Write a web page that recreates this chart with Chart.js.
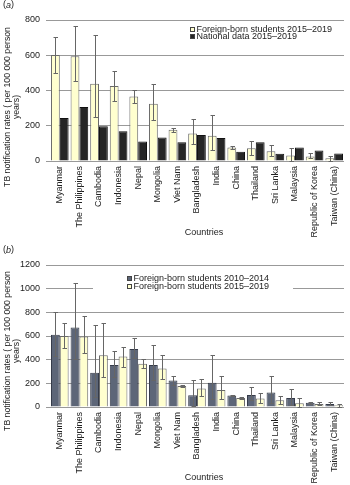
<!DOCTYPE html>
<html><head><meta charset="utf-8">
<script src="https://cdn.jsdelivr.net/npm/chart.js@4.4.1/dist/chart.umd.min.js"></script>
<style>html,body{margin:0;padding:0;background:#fff;}canvas{display:block;}</style>
</head><body>
<canvas id="ca" width="350" height="240"></canvas>
<canvas id="cb" width="350" height="245"></canvas>
<script>
// ---------- DATA ----------
const countries = ['Myanmar','The Philippines','Cambodia','Indonesia','Nepal','Mongolia','Viet Nam','Bangladesh','India','China','Thailand','Sri Lanka','Malaysia','Republic of Korea','Taiwan (China)'];

// Foreign-born students 2015–2019 (panels a and b)
const fb1519     = [601, 595, 438, 426, 366, 325, 178, 156, 143, 76, 72, 56, 31, 26, 15];
const fb1519Low  = [500, 455, 252, 340, 327, 235, 165,  95,  65, 67, 33, 28,  2, 18,  2];
const fb1519High = [706, 766, 714, 511, 402, 436, 190, 240, 259, 85,115, 89, 76, 43, 26];

// National data 2015–2019 (panel a)
const national   = [244, 306, 197, 169, 111, 134, 107, 148, 130, 52, 107, 41, 76, 59, 43];

// Foreign-born students 2010–2014 (panel b)
const fb1014     = [611, 671, 289, 354, 490, 354, 223,  99, 204, 98, 102, 123, 77, 35, 26];
const fb1014Low  = [430, 402,  88, 257, 410, 229, 184,  10,  68, 93,  56,  30, 15, 28, 13];
const fb1014High = [801,1047, 694, 470, 583, 527, 266, 229, 443,103, 165, 266,148, 43, 45];

const ticksA = {min:0, max:800, step:200};
const ticksB = {min:0, max:1200, step:200};

const legendA = ['Foreign-born students 2015\u20132019','National data 2015\u20132019'];
const legendB = ['Foreign-born students 2010\u20132014','Foreign-born students 2015\u20132019'];
const yTitle = ['TB notification rates ( per 100 000 person','years)'];
const xTitle = 'Countries';

// ---------- STYLE ----------
const FONT = '"Liberation Sans", Arial, Helvetica, sans-serif';
const TEXT = '#222';
const CREAM = '#ffffcf', CREAM_B = '#6a6a6a';
const BLACK = '#262626', BLACK_B = '#111';
const SLATE = '#5d6678', SLATE_B = '#363c4a';

const errorBars = {
  id:'errorBars',
  afterDatasetsDraw(chart){
    const ctx = chart.ctx, ys = chart.scales.y;
    chart.data.datasets.forEach((ds,i)=>{
      if(!ds.errLow) return;
      const meta = chart.getDatasetMeta(i);
      ctx.save();
      ctx.strokeStyle = '#666'; ctx.lineWidth = 1;
      meta.data.forEach((bar,j)=>{
        const x = Math.round(bar.x) + 0.5;
        const yl = Math.round(ys.getPixelForValue(ds.errLow[j])) + 0.5;
        const yh = Math.round(ys.getPixelForValue(ds.errHigh[j])) + 0.5;
        ctx.beginPath();
        ctx.moveTo(x, yl); ctx.lineTo(x, yh);
        ctx.moveTo(x-2, yl); ctx.lineTo(x+2.5, yl);
        ctx.moveTo(x-2, yh); ctx.lineTo(x+2.5, yh);
        ctx.stroke();
      });
      ctx.restore();
    });
  }
};

function decor(cfg){
  return {
    id:'decor',
    beforeDatasetsDraw(chart){
      if(!cfg.box) return;
      const ctx = chart.ctx;
      ctx.save(); ctx.fillStyle = '#fff';
      ctx.fillRect(cfg.box[0], cfg.box[1], cfg.box[2], cfg.box[3]);
      ctx.restore();
    },
    afterDraw(chart){
      const ctx = chart.ctx;
      ctx.save();
      ctx.fillStyle = TEXT;
      ctx.textBaseline = 'middle'; ctx.textAlign = 'left';
      ctx.font = '9px ' + FONT;
      let px = 3;
      ctx.fillText('(', px, cfg.labelY); px += ctx.measureText('(').width;
      ctx.font = 'italic 9px ' + FONT;
      ctx.fillText(cfg.label, px, cfg.labelY); px += ctx.measureText(cfg.label).width;
      ctx.font = '9px ' + FONT;
      ctx.fillText(')', px, cfg.labelY);
      ctx.font = '8.7px ' + FONT;
      ctx.textAlign = 'center';
      [[7.5, yTitle[0]],[17, yTitle[1]]].forEach(([x,t])=>{
        ctx.save(); ctx.translate(x, cfg.yTitleY); ctx.rotate(-Math.PI/2);
        ctx.fillText(t, 0, 0); ctx.restore();
      });
      ctx.font = '9px ' + FONT;
      ctx.fillText(xTitle, 204, cfg.xTitleY);
      ctx.textAlign = 'left';
      cfg.legend.forEach((t,k)=>{
        const y = cfg.legY[k];
        ctx.fillStyle = cfg.legColors[k];
        ctx.fillRect(cfg.legX, Math.round(y-2.5), 5, 5);
        ctx.strokeStyle = '#444'; ctx.lineWidth = 1;
        ctx.strokeRect(cfg.legX+0.5, Math.round(y-2.5)+0.5, 4, 4);
        ctx.fillStyle = TEXT;
        ctx.fillText(t, cfg.legX + 6.5, y + 0.5);
      });
      ctx.restore();
    }
  };
}

function makeChart(id, datasets, ticks, topPad, xHeight, cfg){
  return new Chart(document.getElementById(id), {
    type:'bar',
    data:{labels:countries, datasets},
    options:{
      responsive:false, animation:false, devicePixelRatio:1,
      layout:{padding:{top:topPad, left:0, right:0, bottom:0}},
      plugins:{legend:{display:false}, tooltip:{enabled:false}},
      datasets:{bar:{categoryPercentage:0.9, barPercentage:1.0, borderWidth:1}},
      scales:{
        x:{
          grid:{display:false, drawTicks:false},
          border:{display:false},
          ticks:{autoSkip:false, maxRotation:90, minRotation:90, padding:5, color:TEXT, font:{family:FONT, size:9}},
          afterFit(s){ s.height = xHeight; }
        },
        y:{
          min:ticks.min, max:ticks.max,
          grid:{color:'#999', lineWidth:1, drawTicks:true, tickLength:4},
          border:{display:false},
          ticks:{stepSize:ticks.step, padding:6, color:TEXT, font:{family:FONT, size:9},
                 callback:v => String(v)},
          afterFit(s){ s.width = 50; }
        }
      }
    },
    plugins:[errorBars, decor(cfg)]
  });
}

makeChart('ca', [
  {label:legendA[0], data:fb1519, errLow:fb1519Low, errHigh:fb1519High, backgroundColor:CREAM, borderColor:CREAM_B},
  {label:legendA[1], data:national, backgroundColor:BLACK, borderColor:BLACK_B}
], ticksA, 20, 79, {
  label:'a', labelY:5, yTitleY:107, xTitleY:233,
  legend:legendA, legColors:[CREAM, BLACK], legX:190, legY:[29, 36.5]
});

makeChart('cb', [
  {label:legendB[0], data:fb1014, errLow:fb1014Low, errHigh:fb1014High, backgroundColor:SLATE, borderColor:SLATE_B},
  {label:legendB[1], data:fb1519, errLow:fb1519Low, errHigh:fb1519High, backgroundColor:CREAM, borderColor:CREAM_B}
], ticksB, 25, 78, {
  label:'b', labelY:10, yTitleY:111, xTitleY:238,
  legend:legendB, legColors:[SLATE, CREAM], legX:127, legY:[38.5, 46],
  box:[93, 31, 200, 21]
});
</script>
</body></html>
